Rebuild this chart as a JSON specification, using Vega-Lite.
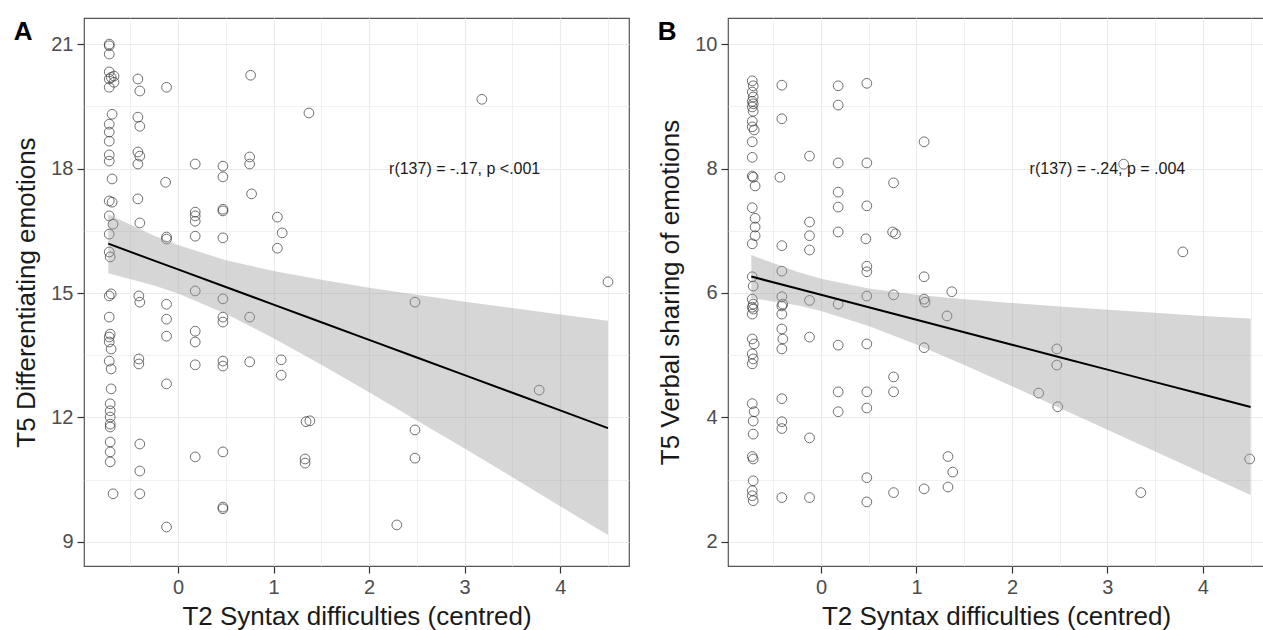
{
  "$schema": "https://vega.github.io/schema/vega-lite/v6.json",
  "background": "white",
  "padding": {"left": 13, "top": 17, "right": 0, "bottom": 0},
  "bounds": "flush",
  "spacing": 99,
  "config": {
    "font": "Liberation Sans",
    "view": {"stroke": "#555555", "strokeWidth": 1.2},
    "axis": {
      "domain": false,
      "labelFont": "Liberation Sans",
      "labelFontSize": 20,
      "labelColor": "#4d4d4d",
      "labelOverlap": false,
      "labelFlush": false,
      "labelPadding": 4,
      "titleFont": "Liberation Sans",
      "titleFontSize": 26,
      "titleFontWeight": "normal",
      "titleColor": "#1a1a1a",
      "tickSize": 7,
      "tickWidth": 1.2,
      "gridColor": "#ebebeb"
    },
    "axisX": {"titlePadding": 6},
    "axisY": {"titlePadding": 11}
  },
  "datasets": {
    "ptsA": [
      {"x": -0.72, "y": 21.0}, {"x": -0.72, "y": 20.96}, {"x": -0.72, "y": 20.76},
      {"x": -0.72, "y": 20.33}, {"x": -0.67, "y": 20.23}, {"x": -0.72, "y": 20.16}, {"x": -0.67, "y": 20.08}, {"x": -0.72, "y": 19.96}, {"x": -0.70, "y": 20.2},
      {"x": -0.69, "y": 19.31}, {"x": -0.72, "y": 19.07}, {"x": -0.72, "y": 18.88}, {"x": -0.72, "y": 18.66},
      {"x": -0.72, "y": 18.33}, {"x": -0.72, "y": 18.18}, {"x": -0.69, "y": 17.75}, {"x": -0.72, "y": 17.22}, {"x": -0.69, "y": 17.19},
      {"x": -0.72, "y": 16.86}, {"x": -0.68, "y": 16.66}, {"x": -0.72, "y": 16.42}, {"x": -0.72, "y": 15.99}, {"x": -0.71, "y": 15.87},
      {"x": -0.70, "y": 14.98}, {"x": -0.72, "y": 14.93}, {"x": -0.72, "y": 14.42}, {"x": -0.71, "y": 14.01}, {"x": -0.72, "y": 13.94},
      {"x": -0.72, "y": 13.82}, {"x": -0.70, "y": 13.65}, {"x": -0.72, "y": 13.36}, {"x": -0.70, "y": 13.17}, {"x": -0.70, "y": 12.69},
      {"x": -0.71, "y": 12.33}, {"x": -0.71, "y": 12.16}, {"x": -0.71, "y": 12.01}, {"x": -0.71, "y": 11.84}, {"x": -0.71, "y": 11.77},
      {"x": -0.71, "y": 11.41}, {"x": -0.71, "y": 11.17}, {"x": -0.71, "y": 10.93}, {"x": -0.68, "y": 10.16},
      {"x": -0.42, "y": 20.16}, {"x": -0.40, "y": 19.87}, {"x": -0.42, "y": 19.24}, {"x": -0.40, "y": 19.02}, {"x": -0.42, "y": 18.4},
      {"x": -0.40, "y": 18.3}, {"x": -0.42, "y": 18.11}, {"x": -0.42, "y": 17.27}, {"x": -0.40, "y": 16.69}, {"x": -0.41, "y": 14.93},
      {"x": -0.40, "y": 14.78}, {"x": -0.41, "y": 13.41}, {"x": -0.41, "y": 13.29}, {"x": -0.40, "y": 11.36}, {"x": -0.40, "y": 10.71}, {"x": -0.40, "y": 10.16},
      {"x": -0.12, "y": 19.96}, {"x": -0.13, "y": 17.67}, {"x": -0.12, "y": 16.35}, {"x": -0.12, "y": 16.3}, {"x": -0.12, "y": 14.73},
      {"x": -0.12, "y": 14.37}, {"x": -0.12, "y": 13.96}, {"x": -0.12, "y": 12.81}, {"x": -0.12, "y": 9.36},
      {"x": 0.18, "y": 18.11}, {"x": 0.18, "y": 16.95}, {"x": 0.18, "y": 16.86}, {"x": 0.18, "y": 16.73}, {"x": 0.18, "y": 16.37},
      {"x": 0.18, "y": 15.05}, {"x": 0.18, "y": 14.08}, {"x": 0.18, "y": 13.82}, {"x": 0.18, "y": 13.27}, {"x": 0.18, "y": 11.05},
      {"x": 0.47, "y": 18.06}, {"x": 0.47, "y": 17.8}, {"x": 0.47, "y": 16.98}, {"x": 0.47, "y": 17.02}, {"x": 0.47, "y": 16.33},
      {"x": 0.47, "y": 14.86}, {"x": 0.47, "y": 14.42}, {"x": 0.47, "y": 14.3}, {"x": 0.47, "y": 13.36}, {"x": 0.47, "y": 13.24},
      {"x": 0.47, "y": 11.17}, {"x": 0.47, "y": 9.84}, {"x": 0.47, "y": 9.8},
      {"x": 0.76, "y": 20.25}, {"x": 0.75, "y": 18.28}, {"x": 0.75, "y": 18.11}, {"x": 0.77, "y": 17.39}, {"x": 0.75, "y": 14.42}, {"x": 0.75, "y": 13.34},
      {"x": 1.04, "y": 16.83}, {"x": 1.09, "y": 16.45}, {"x": 1.04, "y": 16.08}, {"x": 1.08, "y": 13.39}, {"x": 1.08, "y": 13.02},
      {"x": 1.37, "y": 19.34}, {"x": 1.34, "y": 11.9}, {"x": 1.38, "y": 11.92}, {"x": 1.33, "y": 11.0}, {"x": 1.33, "y": 10.9},
      {"x": 2.29, "y": 9.41}, {"x": 2.48, "y": 14.78}, {"x": 2.48, "y": 11.7}, {"x": 2.48, "y": 11.02},
      {"x": 3.18, "y": 19.67}, {"x": 3.78, "y": 12.66}, {"x": 4.5, "y": 15.27}
    ],
    "ptsB": [
      {"x": -0.72, "y": 9.41}, {"x": -0.71, "y": 9.33}, {"x": -0.72, "y": 9.23}, {"x": -0.71, "y": 9.15}, {"x": -0.72, "y": 9.08},
      {"x": -0.71, "y": 9.04}, {"x": -0.72, "y": 8.99}, {"x": -0.71, "y": 8.92}, {"x": -0.72, "y": 8.76}, {"x": -0.72, "y": 8.67},
      {"x": -0.70, "y": 8.62}, {"x": -0.72, "y": 8.43}, {"x": -0.72, "y": 8.18}, {"x": -0.72, "y": 7.88}, {"x": -0.71, "y": 7.86},
      {"x": -0.69, "y": 7.72}, {"x": -0.72, "y": 7.37}, {"x": -0.69, "y": 7.2}, {"x": -0.69, "y": 7.06}, {"x": -0.69, "y": 6.92},
      {"x": -0.72, "y": 6.79}, {"x": -0.72, "y": 6.26}, {"x": -0.71, "y": 6.11}, {"x": -0.72, "y": 5.9}, {"x": -0.71, "y": 5.82},
      {"x": -0.72, "y": 5.77}, {"x": -0.71, "y": 5.74}, {"x": -0.72, "y": 5.66}, {"x": -0.72, "y": 5.26}, {"x": -0.70, "y": 5.18},
      {"x": -0.72, "y": 5.02}, {"x": -0.71, "y": 4.94}, {"x": -0.72, "y": 4.86}, {"x": -0.72, "y": 4.22}, {"x": -0.70, "y": 4.09},
      {"x": -0.71, "y": 3.94}, {"x": -0.71, "y": 3.73}, {"x": -0.72, "y": 3.37}, {"x": -0.71, "y": 3.33}, {"x": -0.71, "y": 2.98},
      {"x": -0.72, "y": 2.82}, {"x": -0.72, "y": 2.74}, {"x": -0.71, "y": 2.66},
      {"x": -0.41, "y": 9.34}, {"x": -0.41, "y": 8.8}, {"x": -0.43, "y": 7.86}, {"x": -0.41, "y": 6.76}, {"x": -0.41, "y": 6.35},
      {"x": -0.41, "y": 5.94}, {"x": -0.40, "y": 5.82}, {"x": -0.41, "y": 5.79}, {"x": -0.41, "y": 5.66}, {"x": -0.41, "y": 5.42},
      {"x": -0.40, "y": 5.26}, {"x": -0.41, "y": 5.1}, {"x": -0.41, "y": 4.3}, {"x": -0.41, "y": 3.93}, {"x": -0.41, "y": 3.82}, {"x": -0.41, "y": 2.71},
      {"x": -0.12, "y": 8.2}, {"x": -0.12, "y": 7.14}, {"x": -0.12, "y": 6.92}, {"x": -0.12, "y": 6.69}, {"x": -0.12, "y": 5.88},
      {"x": -0.12, "y": 5.29}, {"x": -0.12, "y": 3.67}, {"x": -0.12, "y": 2.71},
      {"x": 0.18, "y": 9.33}, {"x": 0.18, "y": 9.02}, {"x": 0.18, "y": 8.09}, {"x": 0.18, "y": 7.62}, {"x": 0.18, "y": 7.38},
      {"x": 0.18, "y": 6.98}, {"x": 0.18, "y": 5.82}, {"x": 0.18, "y": 5.16}, {"x": 0.18, "y": 4.41}, {"x": 0.18, "y": 4.09},
      {"x": 0.48, "y": 9.37}, {"x": 0.48, "y": 8.09}, {"x": 0.48, "y": 7.4}, {"x": 0.47, "y": 6.87}, {"x": 0.48, "y": 6.43},
      {"x": 0.48, "y": 6.34}, {"x": 0.48, "y": 5.95}, {"x": 0.48, "y": 5.18}, {"x": 0.48, "y": 4.41}, {"x": 0.48, "y": 4.15},
      {"x": 0.48, "y": 3.03}, {"x": 0.48, "y": 2.64},
      {"x": 0.76, "y": 7.77}, {"x": 0.75, "y": 6.98}, {"x": 0.78, "y": 6.95}, {"x": 0.76, "y": 5.97}, {"x": 0.76, "y": 4.65},
      {"x": 0.76, "y": 4.41}, {"x": 0.76, "y": 2.79},
      {"x": 1.08, "y": 8.43}, {"x": 1.08, "y": 6.26}, {"x": 1.08, "y": 5.9}, {"x": 1.09, "y": 5.85}, {"x": 1.08, "y": 5.12}, {"x": 1.08, "y": 2.85},
      {"x": 1.37, "y": 6.02}, {"x": 1.32, "y": 5.63}, {"x": 1.33, "y": 3.37}, {"x": 1.38, "y": 3.12}, {"x": 1.33, "y": 2.88},
      {"x": 2.47, "y": 5.1}, {"x": 2.47, "y": 4.84}, {"x": 2.28, "y": 4.39}, {"x": 2.48, "y": 4.17},
      {"x": 3.17, "y": 8.07}, {"x": 3.79, "y": 6.66}, {"x": 3.35, "y": 2.79}, {"x": 4.49, "y": 3.33}
    ],
    "fitA": [
      {"x": -0.73, "lo": 15.48, "hi": 16.9, "fit": 16.19},
      {"x": -0.25, "lo": 15.18, "hi": 16.38, "fit": 15.78},
      {"x": 0, "lo": 14.99, "hi": 16.16, "fit": 15.57},
      {"x": 0.5, "lo": 14.5, "hi": 15.79, "fit": 15.145},
      {"x": 1, "lo": 13.91, "hi": 15.53, "fit": 14.72},
      {"x": 1.5, "lo": 13.27, "hi": 15.32, "fit": 14.295},
      {"x": 2, "lo": 12.61, "hi": 15.13, "fit": 13.87},
      {"x": 2.5, "lo": 11.93, "hi": 14.96, "fit": 13.445},
      {"x": 3, "lo": 11.25, "hi": 14.79, "fit": 13.02},
      {"x": 3.5, "lo": 10.56, "hi": 14.64, "fit": 12.595},
      {"x": 4, "lo": 9.86, "hi": 14.48, "fit": 12.17},
      {"x": 4.5, "lo": 9.17, "hi": 14.33, "fit": 11.745}
    ],
    "fitB": [
      {"x": -0.73, "lo": 5.92, "hi": 6.61, "fit": 6.263},
      {"x": -0.25, "lo": 5.8, "hi": 6.34, "fit": 6.07},
      {"x": 0, "lo": 5.71, "hi": 6.23, "fit": 5.97},
      {"x": 0.5, "lo": 5.47, "hi": 6.07, "fit": 5.77},
      {"x": 1, "lo": 5.17, "hi": 5.97, "fit": 5.569},
      {"x": 1.5, "lo": 4.84, "hi": 5.9, "fit": 5.368},
      {"x": 2, "lo": 4.5, "hi": 5.84, "fit": 5.168},
      {"x": 2.5, "lo": 4.15, "hi": 5.78, "fit": 4.967},
      {"x": 3, "lo": 3.8, "hi": 5.73, "fit": 4.767},
      {"x": 3.5, "lo": 3.45, "hi": 5.68, "fit": 4.566},
      {"x": 4, "lo": 3.1, "hi": 5.63, "fit": 4.366},
      {"x": 4.5, "lo": 2.75, "hi": 5.59, "fit": 4.165}
    ],
    "noteA": [{"x": 3, "y": 18, "label": "r(137) = -.17, p <.001"}],
    "noteB": [{"x": 3, "y": 8, "label": "r(137) = -.24, p = .004"}]
  },
  "hconcat": [
    {
      "width": 545,
      "height": 548,
      "title": {"text": "A", "anchor": "start", "frame": "bounds", "offset": -27, "fontSize": 26, "fontWeight": "bold", "font": "Liberation Sans", "color": "#000000"},
      "layer": [
        {
          "data": {"name": "ptsA"},
          "mark": {"type": "point", "shape": "circle", "filled": false, "size": 95, "stroke": "#333333", "strokeWidth": 1},
          "encoding": {
            "x": {"field": "x", "type": "quantitative", "title": "T2 Syntax difficulties (centred)",
              "scale": {"domain": [-0.984, 4.72], "nice": false, "zero": false},
              "axis": {"values": [-0.5, 0, 0.5, 1, 1.5, 2, 2.5, 3, 3.5, 4, 4.5],
                "labelExpr": "datum.value % 1 === 0 ? '' + datum.value : ''",
                "tickColor": {"condition": {"test": "datum.value % 1 !== 0", "value": "transparent"}, "value": "#333333"},
                "gridWidth": {"condition": {"test": "datum.value % 1 !== 0", "value": 0.7}, "value": 1.2}}},
            "y": {"field": "y", "type": "quantitative", "title": "T5 Differentiating emotions",
              "scale": {"domain": [8.42, 21.63], "nice": false, "zero": false},
              "axis": {"values": [9, 10.5, 12, 13.5, 15, 16.5, 18, 19.5, 21],
                "labelExpr": "datum.value % 3 === 0 ? '' + datum.value : ''",
                "tickColor": {"condition": {"test": "datum.value % 3 !== 0", "value": "transparent"}, "value": "#333333"},
                "gridWidth": {"condition": {"test": "datum.value % 3 !== 0", "value": 0.7}, "value": 1.2}}}
          }
        },
        {
          "data": {"name": "fitA"},
          "mark": {"type": "area", "color": "#999999", "opacity": 0.4},
          "encoding": {
            "x": {"field": "x", "type": "quantitative", "title": "T2 Syntax difficulties (centred)"},
            "y": {"field": "lo", "type": "quantitative", "title": "T5 Differentiating emotions"},
            "y2": {"field": "hi"}
          }
        },
        {
          "data": {"name": "fitA"},
          "mark": {"type": "line", "color": "#000000", "strokeWidth": 2},
          "encoding": {
            "x": {"field": "x", "type": "quantitative", "title": "T2 Syntax difficulties (centred)"},
            "y": {"field": "fit", "type": "quantitative", "title": "T5 Differentiating emotions"}
          }
        },
        {
          "data": {"name": "noteA"},
          "mark": {"type": "text", "fontSize": 16, "font": "Liberation Sans", "color": "#1a1a1a"},
          "encoding": {
            "x": {"field": "x", "type": "quantitative", "title": "T2 Syntax difficulties (centred)"},
            "y": {"field": "y", "type": "quantitative", "title": "T5 Differentiating emotions"},
            "text": {"field": "label"}
          }
        }
      ]
    },
    {
      "width": 536,
      "height": 548,
      "title": {"text": "B", "anchor": "start", "frame": "bounds", "offset": -27, "fontSize": 26, "fontWeight": "bold", "font": "Liberation Sans", "color": "#000000"},
      "layer": [
        {
          "data": {"name": "ptsB"},
          "mark": {"type": "point", "shape": "circle", "filled": false, "size": 95, "stroke": "#333333", "strokeWidth": 1},
          "encoding": {
            "x": {"field": "x", "type": "quantitative", "title": "T2 Syntax difficulties (centred)",
              "scale": {"domain": [-0.974, 4.64], "nice": false, "zero": false},
              "axis": {"values": [-0.5, 0, 0.5, 1, 1.5, 2, 2.5, 3, 3.5, 4, 4.5],
                "labelExpr": "datum.value % 1 === 0 ? '' + datum.value : ''",
                "tickColor": {"condition": {"test": "datum.value % 1 !== 0", "value": "transparent"}, "value": "#333333"},
                "gridWidth": {"condition": {"test": "datum.value % 1 !== 0", "value": 0.7}, "value": 1.2}}},
            "y": {"field": "y", "type": "quantitative", "title": "T5 Verbal sharing of emotions",
              "scale": {"domain": [1.61, 10.42], "nice": false, "zero": false},
              "axis": {"values": [2, 3, 4, 5, 6, 7, 8, 9, 10],
                "labelExpr": "datum.value % 2 === 0 ? '' + datum.value : ''",
                "tickColor": {"condition": {"test": "datum.value % 2 !== 0", "value": "transparent"}, "value": "#333333"},
                "gridWidth": {"condition": {"test": "datum.value % 2 !== 0", "value": 0.7}, "value": 1.2}}}
          }
        },
        {
          "data": {"name": "fitB"},
          "mark": {"type": "area", "color": "#999999", "opacity": 0.4},
          "encoding": {
            "x": {"field": "x", "type": "quantitative", "title": "T2 Syntax difficulties (centred)"},
            "y": {"field": "lo", "type": "quantitative", "title": "T5 Verbal sharing of emotions"},
            "y2": {"field": "hi"}
          }
        },
        {
          "data": {"name": "fitB"},
          "mark": {"type": "line", "color": "#000000", "strokeWidth": 2},
          "encoding": {
            "x": {"field": "x", "type": "quantitative", "title": "T2 Syntax difficulties (centred)"},
            "y": {"field": "fit", "type": "quantitative", "title": "T5 Verbal sharing of emotions"}
          }
        },
        {
          "data": {"name": "noteB"},
          "mark": {"type": "text", "fontSize": 16, "font": "Liberation Sans", "color": "#1a1a1a"},
          "encoding": {
            "x": {"field": "x", "type": "quantitative", "title": "T2 Syntax difficulties (centred)"},
            "y": {"field": "y", "type": "quantitative", "title": "T5 Verbal sharing of emotions"},
            "text": {"field": "label"}
          }
        }
      ]
    }
  ]
}
